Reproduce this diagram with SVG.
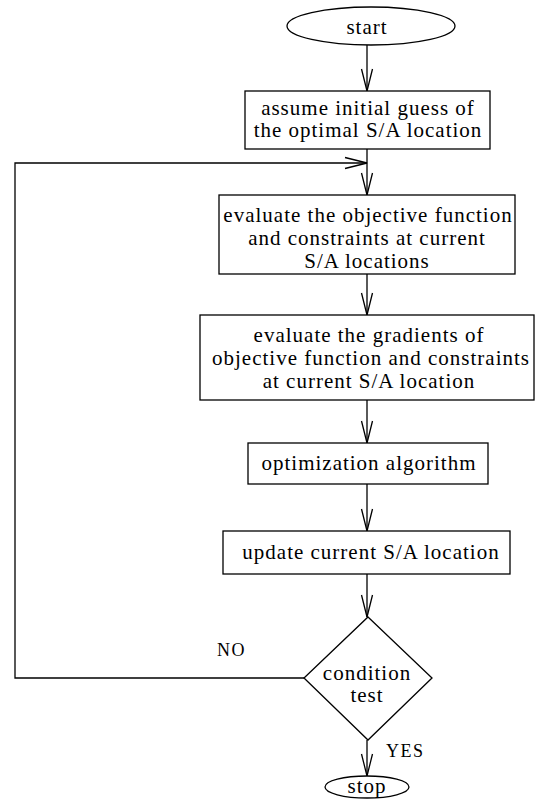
<svg xmlns="http://www.w3.org/2000/svg" width="536" height="800" viewBox="0 0 536 800">
<style>
.shape{fill:#fff;stroke:#000;stroke-width:1.3}
.t{font-family:"Liberation Serif","Times New Roman",serif;font-size:21px;letter-spacing:1px;text-anchor:middle;fill:#000}
.lbl{font-family:"Liberation Serif","Times New Roman",serif;font-size:18px;letter-spacing:1.5px;fill:#000}
.c{fill:none;stroke:#000;stroke-width:1.3}
</style>
<defs>
<marker id="arr" markerUnits="userSpaceOnUse" markerWidth="26" markerHeight="14" refX="23" refY="7" orient="auto">
<path d="M1,1.5 L23,7 L1,12.5" fill="none" stroke="#000" stroke-width="1.3"/>
</marker>
</defs>
<g id="connectors">
<line class="c" x1="367" y1="45" x2="367" y2="91" marker-end="url(#arr)"/>
<line class="c" x1="367" y1="149" x2="367" y2="195" marker-end="url(#arr)"/>
<polyline class="c" points="304,678 15,678 15,163 367,163" marker-end="url(#arr)"/>
<line class="c" x1="367" y1="274" x2="367" y2="315" marker-end="url(#arr)"/>
<line class="c" x1="367" y1="400" x2="367" y2="443" marker-end="url(#arr)"/>
<line class="c" x1="367" y1="484" x2="367" y2="531" marker-end="url(#arr)"/>
<line class="c" x1="367" y1="574" x2="367" y2="617" marker-end="url(#arr)"/>
<line class="c" x1="367" y1="740" x2="367" y2="776" marker-end="url(#arr)"/>
<text class="lbl" x="217" y="656">NO</text>
<text class="lbl" x="386" y="757">YES</text>
</g>
<g id="start">
<ellipse class="shape" cx="371" cy="26" rx="84" ry="19"/>
<text class="t" x="367" y="34">start</text>
</g>
<g id="init">
<rect class="shape" x="245" y="91" width="245" height="58"/>
<text class="t" x="368" y="115">assume initial guess of</text>
<text class="t" x="368" y="137">the optimal S/A location</text>
</g>
<g id="evalObj">
<rect class="shape" x="219" y="195" width="296" height="79"/>
<text class="t" x="368" y="222">evaluate the objective function</text>
<text class="t" x="367" y="245">and constraints at current</text>
<text class="t" x="367" y="268">S/A locations</text>
</g>
<g id="evalGrad">
<rect class="shape" x="200" y="315" width="334" height="85"/>
<text class="t" x="369" y="342">evaluate the gradients of</text>
<text class="t" x="371" y="365">objective function and constraints</text>
<text class="t" x="369" y="388">at current S/A location</text>
</g>
<g id="opt">
<rect class="shape" x="248" y="443" width="240" height="41"/>
<text class="t" x="369" y="470">optimization algorithm</text>
</g>
<g id="update">
<rect class="shape" x="223" y="531" width="287" height="43"/>
<text class="t" x="371" y="559">update current S/A location</text>
</g>
<g id="cond">
<polygon class="shape" points="368,617 432,678 368,740 304,678"/>
<text class="t" x="367" y="680">condition</text>
<text class="t" x="367" y="702">test</text>
</g>
<g id="stop">
<ellipse class="shape" cx="367" cy="787" rx="42" ry="11"/>
<text class="t" x="367" y="793">stop</text>
</g>
</svg>
